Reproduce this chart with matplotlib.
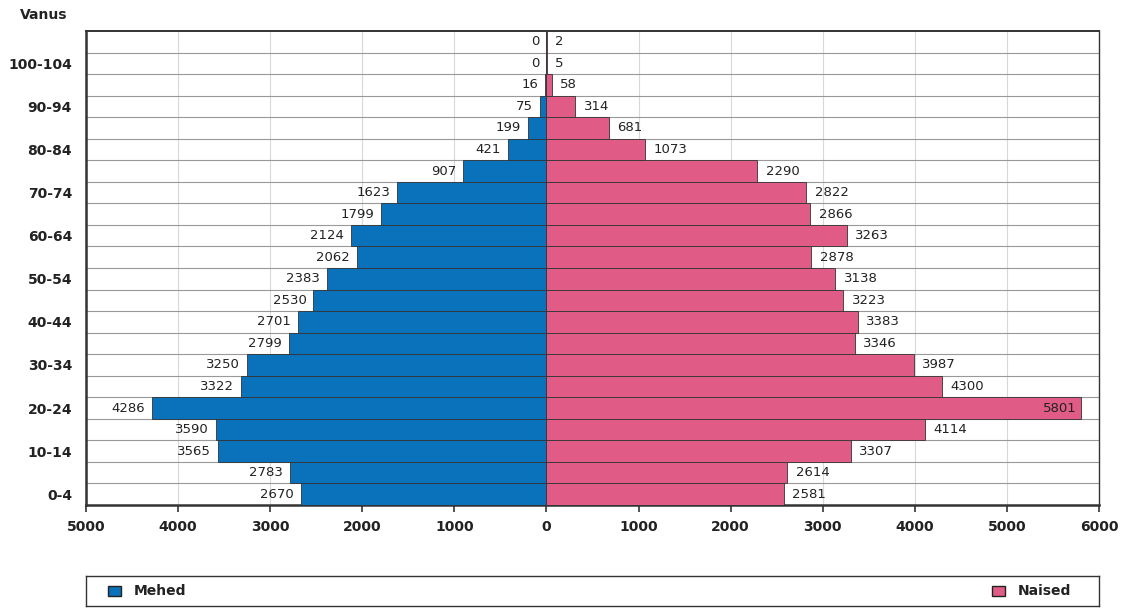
import matplotlib.pyplot as plt
import numpy as np

# age groups from bottom to top
ages = ['0-4', '5-9', '10-14', '15-19', '20-24', '25-29', '30-34', '35-39',
        '40-44', '45-49', '50-54', '55-59', '60-64', '65-69', '70-74', '75-79',
        '80-84', '85-89', '90-94', '95-99', '100-104', '105+']
mehed = [2670, 2783, 3565, 3590, 4286, 3322, 3250, 2799, 2701, 2530, 2383,
         2062, 2124, 1799, 1623, 907, 421, 199, 75, 16, 0, 0]
naised = [2581, 2614, 3307, 4114, 5801, 4300, 3987, 3346, 3383, 3223, 3138,
          2878, 3263, 2866, 2822, 2290, 1073, 681, 314, 58, 5, 2]
xticks = [-5000, -4000, -3000, -2000, -1000, 0, 1000, 2000, 3000, 4000, 5000, 6000]

blue = '#0a72ba'
pink = '#e05b85'
txt = '#222222'

fig = plt.figure(figsize=(11.25, 6.08), dpi=100)
ax = fig.add_axes([86 / 1125, 1 - 505 / 608, 1013 / 1125, 474 / 608])

y = np.arange(len(ages))
ax.barh(y, [-m for m in mehed], height=1.0, color=blue, edgecolor='#333333', linewidth=0.6, zorder=3)
ax.barh(y, naised, height=1.0, color=pink, edgecolor='#333333', linewidth=0.6, zorder=3)

ax.set_xlim(-5000, 6000)
ax.set_ylim(-0.5, len(ages) - 0.5)

# grid
for xv in xticks[1:-1]:
    ax.axvline(xv, color='#d8d8d8', linewidth=0.8, zorder=1)
for yv in np.arange(0.5, len(ages) - 0.5, 1):
    ax.axhline(yv, color='#999999', linewidth=0.8, zorder=2)

# value labels
for i in range(len(ages)):
    m = mehed[i]
    f = naised[i]
    xm = ax.transData.transform((-m, 0))[0]
    ax.annotate(str(m), (-m, i), xytext=(-5, 0), textcoords='offset points',
                ha='right', va='center', fontsize=9.5, color=txt, zorder=4)
    if f > 5500:
        ax.annotate(str(f), (f, i), xytext=(-3, 0), textcoords='offset points',
                    ha='right', va='center', fontsize=9.5, color=txt, zorder=4)
    else:
        ax.annotate(str(f), (f, i), xytext=(6, 0), textcoords='offset points',
                    ha='left', va='center', fontsize=9.5, color=txt, zorder=4)

ax.set_xticks(xticks)
ax.set_xticklabels([str(abs(v)) for v in xticks], fontsize=10, fontweight='bold', color=txt)
ax.set_yticks(y[::2])
ax.set_yticklabels(ages[::2], fontsize=10, fontweight='bold', color=txt)
ax.tick_params(axis='y', length=0, pad=10)
ax.tick_params(axis='x', length=5, width=1.2, color='#333333', pad=6)

for s in ['top', 'right']:
    ax.spines[s].set_color('#333333')
    ax.spines[s].set_linewidth(1.0)
for s in ['left', 'bottom']:
    ax.spines[s].set_color('#333333')
    ax.spines[s].set_linewidth(1.8)
ax.spines['top'].set_linewidth(1.4)

fig.text(20 / 1125, 1 - 15 / 608, 'Vanus', fontsize=10, fontweight='bold', color=txt, va='center', ha='left')

# legend box
lax = fig.add_axes([86 / 1125, 1 - 606 / 608, 1013 / 1125, 30 / 608])
lax.set_xlim(0, 1013)
lax.set_ylim(0, 30)
lax.set_xticks([])
lax.set_yticks([])
for s in lax.spines.values():
    s.set_color('#333333')
    s.set_linewidth(1.0)
lax.add_patch(plt.Rectangle((22, 10), 13, 10, facecolor=blue, edgecolor='#222222', linewidth=1))
lax.text(48, 15, 'Mehed', fontsize=10, fontweight='bold', color=txt, va='center', ha='left')
lax.add_patch(plt.Rectangle((906, 10), 13, 10, facecolor=pink, edgecolor='#222222', linewidth=1))
lax.text(932, 15, 'Naised', fontsize=10, fontweight='bold', color=txt, va='center', ha='left')

fig.savefig('out.png', dpi=100)
